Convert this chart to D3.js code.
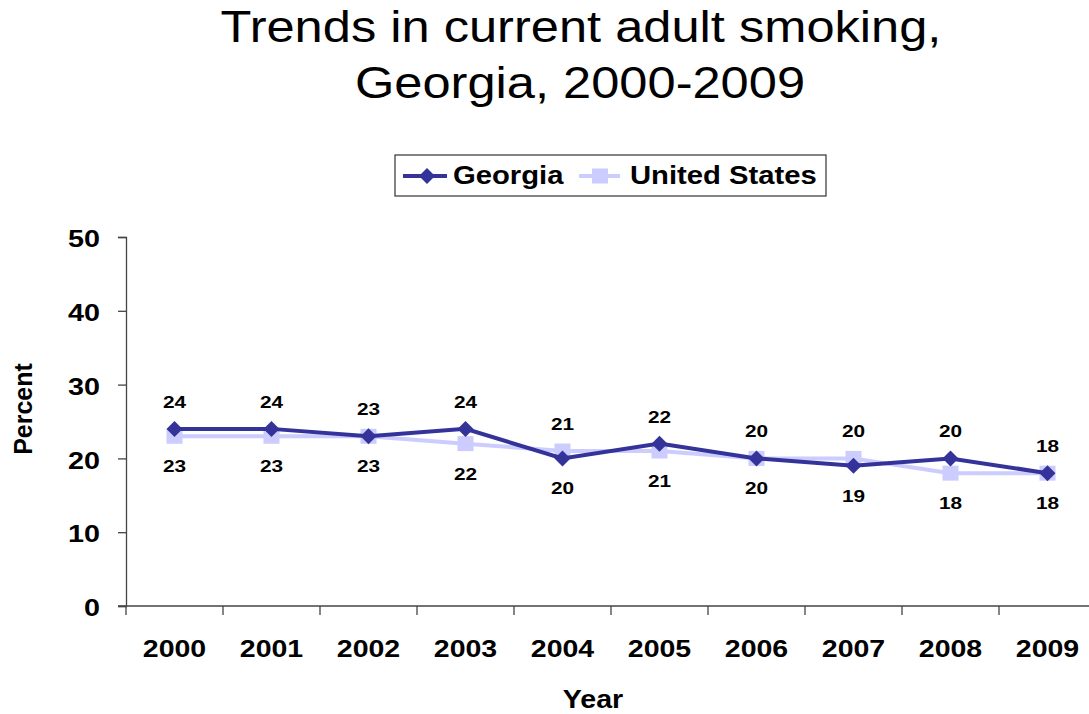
<!DOCTYPE html>
<html>
<head>
<meta charset="utf-8">
<script src="https://cdn.jsdelivr.net/npm/d3@7"></script>
<style>
  body { margin: 0; background: #fff; }
  svg { display: block; font-family: Arial, "Liberation Sans", sans-serif; }
</style>
</head>
<body>
<svg id="chart" width="1089" height="714"></svg>
<script>
// Current adult smoking prevalence (%), 2000-2009
const years = ["2000", "2001", "2002", "2003", "2004", "2005", "2006", "2007", "2008", "2009"];
const georgia = [24, 24, 23, 24, 20, 22, 20, 19, 20, 18];
const unitedStates = [23, 23, 23, 22, 21, 21, 20, 20, 18, 18];
const yTicks = [0, 10, 20, 30, 40, 50];
const seriesNames = ["Georgia", "United States"];

const svg = d3.select("#chart");

const x = d3.scaleBand().domain(years).range([126, 1096]);
const y = d3.scaleLinear().domain([0, 50]).range([606, 237]);

// Text helper: the slide's lettering is set wide, so each label gets a horizontal stretch
function label(parent, tx, ty, str, size, opts = {}) {
  const t = parent.append("text")
    .attr("transform", `translate(${tx},${ty}) scale(${opts.sx || 1},1)` + (opts.rotate ? ` rotate(${opts.rotate})` : ""))
    .attr("text-anchor", opts.anchor || "middle")
    .attr("font-size", size)
    .attr("font-weight", opts.weight || "bold")
    .attr("fill", "#000")
    .text(str);
  if (opts.dy) t.attr("dy", opts.dy);
  return t;
}

// Title
label(svg, 581, 42, "Trends in current adult smoking,", 44, { sx: 1.15, weight: "normal" });
label(svg, 580, 98, "Georgia, 2000-2009", 44, { sx: 1.15, weight: "normal" });

// Y axis
const yAxis = svg.append("g")
  .attr("transform", "translate(126,0)")
  .call(d3.axisLeft(y).tickValues(yTicks).tickSize(8));
yAxis.select(".domain").attr("stroke", "#444").attr("stroke-width", 1.3);
yAxis.selectAll(".tick line").attr("stroke", "#444").attr("stroke-width", 1.3);
yAxis.selectAll(".tick text").remove();
yAxis.selectAll(".tick").each(function (d) {
  label(d3.select(this), -26, 0, d, 23, { sx: 1.25, anchor: "end", dy: "0.42em" });
});

// X axis with ticks on category boundaries
const xAxisG = svg.append("g").attr("transform", "translate(0,606)");
xAxisG.append("line")
  .attr("x1", 118).attr("x2", 1096).attr("y1", 0).attr("y2", 0)
  .attr("stroke", "#444").attr("stroke-width", 1.3);
const bounds = years.map(d => x(d)).concat([x.range()[1]]);
xAxisG.selectAll("line.tick").data(bounds).join("line")
  .attr("class", "tick")
  .attr("x1", d => d).attr("x2", d => d)
  .attr("y1", 0).attr("y2", 9)
  .attr("stroke", "#444").attr("stroke-width", 1.3);
years.forEach(yr => label(xAxisG, x(yr) + x.bandwidth() / 2, 51, yr, 23, { sx: 1.24 }));

// Axis titles
label(svg, 593, 708, "Year", 26, { sx: 1.1 });
label(svg, 32, 409, "Percent", 25, { rotate: -90 });

const cx = d => x(d) + x.bandwidth() / 2;
const colors = { ga: "#333399", us: "#CCCCFF" };

const line = vals => d3.line()
  .x((v, i) => cx(years[i]))
  .y(v => y(v))(vals);

const diamondPath = "M0,-8L8,0L0,8L-8,0Z";

// United States series (drawn first, beneath Georgia)
svg.append("path").attr("d", line(unitedStates))
  .attr("fill", "none").attr("stroke", colors.us).attr("stroke-width", 4);
svg.selectAll("rect.us").data(unitedStates).join("rect")
  .attr("class", "us")
  .attr("x", (v, i) => cx(years[i]) - 8)
  .attr("y", v => y(v) - 7.5)
  .attr("width", 16).attr("height", 15)
  .attr("fill", colors.us);

// Georgia series
svg.append("path").attr("d", line(georgia))
  .attr("fill", "none").attr("stroke", colors.ga).attr("stroke-width", 4);
svg.selectAll("path.ga").data(georgia).join("path")
  .attr("class", "ga")
  .attr("d", diamondPath)
  .attr("transform", (v, i) => `translate(${cx(years[i])},${y(v)})`)
  .attr("fill", colors.ga);

// Value labels: higher series above its marker, lower one below
const labels = svg.append("g");
years.forEach((yr, i) => {
  const gaTop = georgia[i] >= unitedStates[i];
  const topVal = gaTop ? georgia[i] : unitedStates[i];
  const botVal = gaTop ? unitedStates[i] : georgia[i];
  label(labels, cx(yr), y(topVal) - 21, topVal, 16, { sx: 1.3 });
  label(labels, cx(yr), y(botVal) + 36, botVal, 16, { sx: 1.3 });
});

// Legend
const lg = svg.append("g").attr("transform", "translate(395,155)");
lg.append("rect").attr("width", 431).attr("height", 41)
  .attr("fill", "#fff").attr("stroke", "#333").attr("stroke-width", 1.2);
lg.append("line").attr("x1", 8).attr("x2", 52).attr("y1", 21).attr("y2", 21)
  .attr("stroke", colors.ga).attr("stroke-width", 4);
lg.append("path").attr("d", diamondPath)
  .attr("transform", "translate(32,21)")
  .attr("fill", colors.ga);
label(lg, 58, 29, seriesNames[0], 25, { sx: 1.17, anchor: "start" });
lg.append("line").attr("x1", 184).attr("x2", 225).attr("y1", 21).attr("y2", 21)
  .attr("stroke", colors.us).attr("stroke-width", 4);
lg.append("rect").attr("x", 197).attr("y", 13.5).attr("width", 16).attr("height", 15)
  .attr("fill", colors.us);
label(lg, 235, 29, seriesNames[1], 25, { sx: 1.17, anchor: "start" });
</script>
</body>
</html>
